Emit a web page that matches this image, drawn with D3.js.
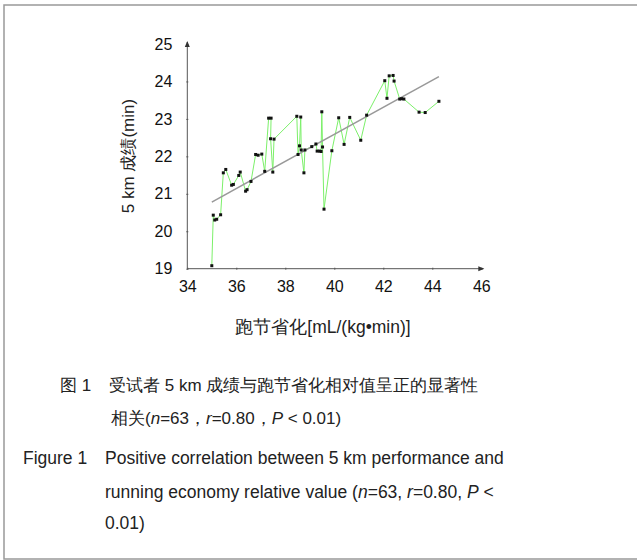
<!DOCTYPE html>
<html>
<head>
<meta charset="utf-8">
<script src="https://cdn.jsdelivr.net/npm/d3@7/dist/d3.min.js"></script>
<style>
  body { margin: 0; background: #fff; }
  svg { display: block; font-family: "Liberation Sans", Arial, sans-serif; }
</style>
</head>
<body>
<svg id="chart" width="637" height="560"></svg>
<script>
// Running economy (x) vs 5 km time (y), in path order
const runEconomy = [35.00, 35.06, 35.12, 35.20, 35.36, 35.47, 35.57, 35.81, 35.88, 36.10,
  36.16, 36.38, 36.44, 36.60, 36.79, 36.89, 37.04, 37.16, 37.32, 37.42,
  37.40, 37.49, 37.54, 38.47, 38.52, 38.58, 38.63, 38.65, 38.76, 38.80,
  39.08, 39.25, 39.30, 39.40, 39.46, 39.49, 39.52, 39.58, 39.90, 40.18,
  40.40, 40.63, 41.08, 41.32, 42.06, 42.15, 42.24, 42.40, 42.44, 42.67,
  42.75, 42.84, 43.46, 43.71, 44.27];
const time5km = [19.08, 20.43, 20.30, 20.32, 20.44, 21.56, 21.65, 21.23, 21.25, 21.49,
  21.58, 21.07, 21.11, 21.33, 22.05, 22.03, 22.06, 21.60, 23.02, 23.02,
  22.47, 21.58, 22.46, 23.07, 22.05, 22.28, 23.05, 22.17, 21.56, 22.17,
  22.26, 22.33, 22.14, 22.14, 22.13, 23.19, 22.25, 20.59, 22.15, 23.03,
  22.32, 23.04, 22.43, 23.10, 24.02, 23.55, 24.15, 24.16, 24.01, 23.53,
  23.54, 23.53, 23.18, 23.17, 23.47];
const fitX = [35.0, 44.27];
const fitY = [20.78, 24.13];
const xTicks = [34, 36, 38, 40, 42, 44, 46];
const yTicks = [19, 20, 21, 22, 23, 24, 25];

const svg = d3.select("#chart");

// frame
svg.append("rect").attr("x", 4).attr("y", 5).attr("width", 634).attr("height", 554)
  .attr("fill", "none").attr("stroke", "#999").attr("stroke-width", 1.5);

const x = d3.scaleLinear().domain([34, 46]).range([187.3, 481.3]);
const y = d3.scaleLinear().domain([19, 25]).range([268.7, 44]);

// axes
const xAxis = d3.axisBottom(x).tickValues(xTicks).tickSize(2).tickPadding(10).tickFormat(d3.format("d"));
const gx = svg.append("g").attr("transform", `translate(0,${y(19)})`).call(xAxis);
gx.select(".domain").attr("stroke", "#555").attr("d", `M${x(34)},0H${x(46) + 2}`);
gx.selectAll(".tick line").attr("stroke", "#555").attr("y1", -1).attr("y2", 1);
gx.selectAll(".tick text").attr("font-size", 16).attr("fill", "#111");

const yAxis = d3.axisLeft(y).tickValues(yTicks).tickSize(2).tickPadding(13).tickFormat(d3.format("d"));
const gy = svg.append("g").attr("transform", `translate(${x(34)},0)`).call(yAxis);
gy.select(".domain").attr("stroke", "#555").attr("d", `M0,${y(19)}V${y(25) - 2}`);
gy.selectAll(".tick line").attr("stroke", "#555").attr("x1", -1).attr("x2", 1);
gy.selectAll(".tick text").attr("font-size", 16).attr("fill", "#111");

// arrow heads
svg.append("path").attr("d", `M${x(34) - 2.5},${y(25) + 3}L${x(34)},${y(25) - 3}L${x(34) + 2.5},${y(25) + 3}Z`).attr("fill", "#333");
svg.append("path").attr("d", `M${x(46) - 3},${y(19) - 2.5}L${x(46) + 3},${y(19)}L${x(46) - 3},${y(19) + 2.5}Z`).attr("fill", "#333");

// connecting line
const pts = runEconomy.map((v, i) => [v, time5km[i]]);
svg.append("path").datum(pts)
  .attr("d", d3.line().x(d => x(d[0])).y(d => y(d[1])))
  .attr("fill", "none").attr("stroke", "#7cf06a").attr("stroke-width", 1);

// fit line
svg.append("line")
  .attr("x1", x(fitX[0])).attr("y1", y(fitY[0]))
  .attr("x2", x(fitX[1])).attr("y2", y(fitY[1]))
  .attr("stroke", "#999").attr("stroke-width", 1.5);

// points
svg.append("g").selectAll("rect").data(pts).join("rect")
  .attr("x", d => x(d[0]) - 1.5).attr("y", d => y(d[1]) - 1.5)
  .attr("width", 3).attr("height", 3).attr("fill", "#111");

// axis titles
svg.append("text").attr("transform", `translate(134,156) rotate(-90)`)
  .attr("text-anchor", "middle").attr("font-size", 17).attr("fill", "#222")
  .text("5 km 成绩(min)");
svg.append("text").attr("x", 323).attr("y", 333)
  .attr("text-anchor", "middle").attr("font-size", 17.5).attr("fill", "#222")
  .text("跑节省化[mL/(kg•min)]");

// captions
const cap = svg.append("g").attr("font-size", 17.5).attr("fill", "#222");
cap.append("text").attr("x", 60).attr("y", 391).attr("font-size", 17).text("图 1");
cap.append("text").attr("x", 109).attr("y", 391).attr("font-size", 17).text("受试者 5 km 成绩与跑节省化相对值呈正的显著性");
const c2 = cap.append("text").attr("x", 111).attr("y", 424).attr("font-size", 17);
c2.append("tspan").text("相关(");
c2.append("tspan").attr("font-style", "italic").text("n");
c2.append("tspan").text("=63，");
c2.append("tspan").attr("font-style", "italic").text("r");
c2.append("tspan").text("=0.80，");
c2.append("tspan").attr("font-style", "italic").text("P");
c2.append("tspan").text(" < 0.01)");

cap.append("text").attr("x", 23).attr("y", 464).text("Figure 1");
cap.append("text").attr("x", 105).attr("y", 464).text("Positive correlation between 5 km performance and");
const e2 = cap.append("text").attr("x", 105).attr("y", 498);
e2.append("tspan").text("running economy relative value (");
e2.append("tspan").attr("font-style", "italic").text("n");
e2.append("tspan").text("=63, ");
e2.append("tspan").attr("font-style", "italic").text("r");
e2.append("tspan").text("=0.80, ");
e2.append("tspan").attr("font-style", "italic").text("P");
e2.append("tspan").text(" <");
cap.append("text").attr("x", 105).attr("y", 529).text("0.01)");
</script>
</body>
</html>
